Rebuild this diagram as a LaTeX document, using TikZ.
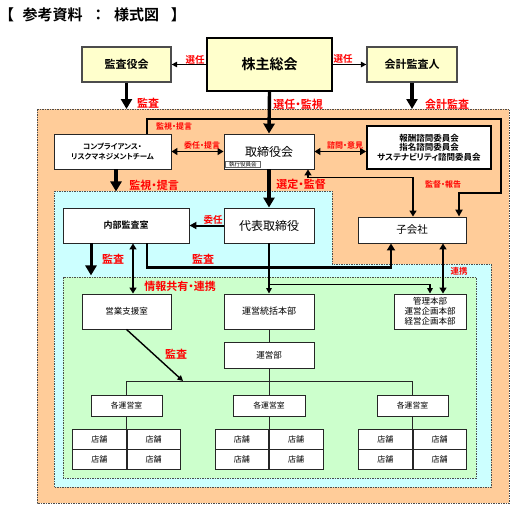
\documentclass[tikz,border=0pt]{standalone}
\usepackage{fontspec}
\setmainfont{Noto Sans CJK JP}[RawFeature=+palt, BoldFont={Noto Sans CJK JP Bold}]
\usetikzlibrary{arrows.meta,calc}
\definecolor{orfill}{HTML}{FFCC99}
\definecolor{blfill}{HTML}{CCFFFF}
\definecolor{grfill}{HTML}{CCFFCC}
\definecolor{yefill}{HTML}{FFFFCC}
\definecolor{lblred}{HTML}{FF0000}
\newcommand\myfs[2]{\fontsize{#1}{#2}\selectfont}
\tikzset{
  region/.style={draw=black!70, line width=0.7pt, dash pattern=on 1.5pt off 1pt},
  box/.style={draw=black!85, line width=0.9pt, fill=white, inner sep=1pt, align=center, font=\bfseries},
  ybox/.style={box, fill=yefill, draw=black!70, line width=1.3pt},
  lab/.style={text=lblred, font=\bfseries\myfs{11}{12}, inner sep=0pt},
  slab/.style={text=lblred, font=\bfseries\myfs{8}{9}, inner sep=0pt},
  bigarrow/.style={line width=3.4pt, -{Triangle[width=11pt,length=10pt]}},
  medline/.style={line width=2.4pt},
  medarrow/.style={line width=2pt, -{Triangle[width=7pt,length=7pt]}},
  dblarrow/.style={line width=1.8pt, {Triangle[width=7pt,length=6pt]}-{Triangle[width=7pt,length=6pt]}},
  thinarrow/.style={line width=1.4pt, -{Triangle[width=5.5pt,length=5.5pt]}},
  conn/.style={line width=0.8pt, draw=black!85},
  cell/.style={draw=black!85, line width=0.9pt, fill=white, minimum width=53.5pt, minimum height=20pt, inner sep=0pt, font=\myfs{8}{9}},
}
\begin{document}
\begin{tikzpicture}[x=1pt,y=-1pt]
\useasboundingbox (0,0) rectangle (514,509);
% title
\node[anchor=west, inner sep=0pt, font=\bfseries\myfs{15}{17}] (title) at (6,15) {【\hspace{9pt}参考資料\hspace{12pt}：\hspace{12pt}様式図\hspace{12pt}】};
% regions
\draw[region, fill=orfill] (37,109) rectangle (509,503);
\draw[region, fill=blfill] (54,191) -- (332,191) -- (332,264) -- (491,264) -- (491,487) -- (54,487) -- cycle;
\draw[region, fill=grfill] (63,277) rectangle (476,478);
% top boxes
\node[ybox, minimum width=89pt, minimum height=35pt, font=\bfseries\myfs{11}{12}] (kansayaku) at (126.5,64.5) {監査役会};
\node[ybox, draw=black, line width=1.8pt, minimum width=125pt, minimum height=53pt, font=\bfseries\myfs{14}{16}] (kabunushi) at (269.5,64.5) {株主総会};
\node[ybox, minimum width=90pt, minimum height=35pt, font=\bfseries\myfs{11}{12}] (kaikei) at (412,64.5) {会計監査人};
% second row
\node[box, minimum width=117pt, minimum height=35pt, font=\bfseries\myfs{7.5}{10}] (comp) at (112.5,151.5) {コンプライアンス・\\リスクマネジメントチーム};
\node[box, minimum width=90pt, minimum height=35pt, font=\myfs{12}{13}] (tori) at (269,151.5) {取締役会};
\node[draw=black!60, line width=0.5pt, fill=white, anchor=south west, minimum width=35pt, minimum height=6.5pt, inner sep=0pt, font=\myfs{5.5}{6}] (shikkou) at ($(tori.south west)+(1.5,-1.5)$) {執行役員会};
\node[box, draw=black, line width=1.8pt, minimum width=124pt, minimum height=43pt, font=\bfseries\myfs{8.5}{9.6}] (iinkai) at (429,147.5) {報酬諮問委員会\\指名諮問委員会\\サステナビリティ諮問委員会};
% third row
\node[box, minimum width=126pt, minimum height=35pt, font=\bfseries\myfs{9}{10}] (naibu) at (126,225.5) {内部監査室};
\node[box, minimum width=90pt, minimum height=35pt, font=\myfs{12}{13}] (daihyo) at (269,225.5) {代表取締役};
\node[box, minimum width=108pt, minimum height=26pt, font=\myfs{10.5}{12}] (kogaisha) at (412,230) {子会社};
% fourth row
\node[box, minimum width=89pt, minimum height=35pt, font=\myfs{8.5}{10}] (eigyo) at (126.5,311.5) {営業支援室};
\node[box, minimum width=90pt, minimum height=35pt, font=\myfs{9}{10}] (touhatsu) at (269,311.5) {運営統括本部};
\node[box, minimum width=72pt, minimum height=35pt, font=\myfs{8.5}{10}] (kanri) at (430,311.5) {管理本部\\運営企画本部\\経営企画本部};
\node[box, minimum width=90pt, minimum height=26pt, font=\myfs{8.5}{10}] (uneibu) at (269,355) {運営部};
% rooms
\node[box, minimum width=71pt, minimum height=21pt, font=\myfs{7.8}{9}] (roomA) at (126.5,405.5) {各運営室};
\node[box, minimum width=72pt, minimum height=21pt, font=\myfs{7.8}{9}] (roomB) at (269,405.5) {各運営室};
\node[box, minimum width=71pt, minimum height=21pt, font=\myfs{7.8}{9}] (roomC) at (412.5,405.5) {各運営室};
% store grids
\node[cell, anchor=north east] (a11) at (126.5,429) {店舗};
\node[cell, anchor=north west] (a12) at (126.5,429) {店舗};
\node[cell, anchor=north east] (a21) at (126.5,449) {店舗};
\node[cell, anchor=north west] (a22) at (126.5,449) {店舗};
\node[cell, anchor=north east] (b11) at (269,429) {店舗};
\node[cell, anchor=north west] (b12) at (269,429) {店舗};
\node[cell, anchor=north east] (b21) at (269,449) {店舗};
\node[cell, anchor=north west] (b22) at (269,449) {店舗};
\node[cell, anchor=north east] (c11) at (412.5,429) {店舗};
\node[cell, anchor=north west] (c12) at (412.5,429) {店舗};
\node[cell, anchor=north east] (c21) at (412.5,449) {店舗};
\node[cell, anchor=north west] (c22) at (412.5,449) {店舗};
% connectors top
\draw[thinarrow] (kabunushi.west) -- (kansayaku.east);
\draw[thinarrow] (kabunushi.east) -- (kaikei.west);
\coordinate (otop) at (0,109);
\draw[bigarrow] (kansayaku.south) -- (kansayaku.south |- otop);
\draw[bigarrow] (kaikei.south) -- (kaikei.south |- otop);
\draw[bigarrow] (kabunushi.south) -- (tori.north);
% compliance loop to subsidiary
\draw[medline, -{Triangle[width=7pt,length=7pt]}] ([xshift=34.5pt]comp.north) |- (501,119) -- (501,193) -| ([xshift=47pt]kogaisha.north);
\draw[dblarrow] (comp.east) -- (tori.west);
\draw[dblarrow] (tori.east) -- (tori.east -| iinkai.west);
\draw[dblarrow] ([xshift=39pt]tori.south) -- ($([xshift=39pt]tori.south)+(0,8)$) -| ([xshift=1pt]kogaisha.north);
\draw[bigarrow] ([xshift=3.5pt]comp.south) -- ++(0,22);
\draw[bigarrow] (tori.south) -- (daihyo.north);
\draw[medarrow] (daihyo.west) -- (naibu.east);
% internal audit
\draw[bigarrow, line width=3pt] ([xshift=-35pt]naibu.south) -- ++(0,32);
\draw[dblarrow] ([xshift=7pt]naibu.south) -- ([xshift=7pt]naibu.south |- eigyo.north);
\draw[medline, line width=2.8pt, -{Triangle[width=8pt,length=7pt]}] ([xshift=21pt]naibu.south) -- ++(0,24) -| ([xshift=-21pt]kogaisha.south);
\draw[dblarrow] ([xshift=31pt]kogaisha.south) -- ([xshift=13pt]kanri.north);
% operations
\draw[thinarrow] (daihyo.south) -- (touhatsu.north);
\draw[thinarrow] ($(daihyo.south)+(0,41)$) -| (kanri.north);
\draw[conn] (touhatsu.south) -- (uneibu.north);
\draw[conn] (uneibu.south) -- (roomB.north);
\draw[conn] (roomA.north) -- ++(0,-13) -| (roomC.north);
\coordinate (diagend) at (183,381);
\draw[thinarrow] (eigyo.south) -- (diagend);
\draw[conn] (roomA.south) -- (a21.south east);
\draw[conn] (roomB.south) -- (b21.south east);
\draw[conn] (roomC.south) -- (c21.south east);
% labels
\node[slab, font=\bfseries\myfs{9.5}{10}] (l1) at (195,60) {選任};
\node[slab, font=\bfseries\myfs{9.5}{10}] (l2) at (343,59) {選任};
\node[lab] (l3) at (148,103) {監査};
\node[lab] (l4) at (298,104) {選任・監視};
\node[lab] (l5) at (447,104) {会計監査};
\node[slab] (l6) at (174,126) {監視・提言};
\node[slab] (l7) at (202,145) {委任・提言};
\node[slab] (l8) at (345,145) {諮問・意見};
\node[lab] (l9) at (154,185) {監視・提言};
\node[lab] (l10) at (301,184) {選定・監督};
\node[slab] (l11) at (443,184) {監督・報告};
\node[slab, font=\bfseries\myfs{9.5}{10}] (l12) at (213,220) {委任};
\node[lab] (l13) at (113,259) {監査};
\node[lab] (l14) at (203,259) {監査};
\node[lab] (l15) at (180,286) {情報共有・連携};
\node[slab, font=\bfseries\myfs{8.5}{9}] (l16) at (459,271) {連携};
\node[lab] (l17) at (176,354) {監査};
\end{tikzpicture}
\end{document}
